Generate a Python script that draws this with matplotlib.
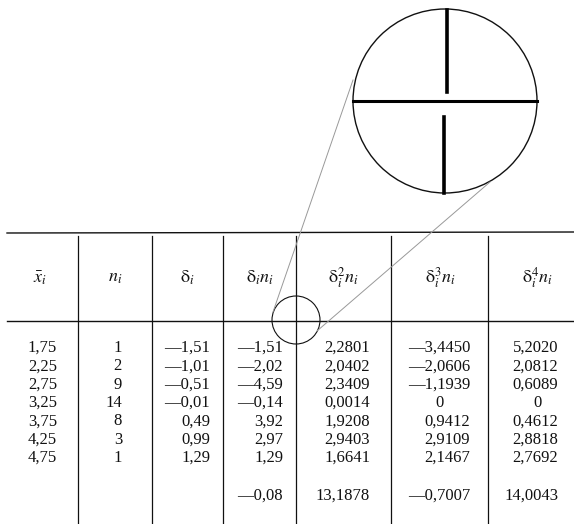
import matplotlib.pyplot as plt
from matplotlib.patches import Circle

plt.rcParams['font.family'] = ['Liberation Serif', 'DejaVu Serif']
plt.rcParams['mathtext.fontset'] = 'stix'

# table data
x_bar = [1.75, 2.25, 2.75, 3.25, 3.75, 4.25, 4.75]
n = [1, 2, 9, 14, 8, 3, 1]
delta = [-1.51, -1.01, -0.51, -0.01, 0.49, 0.99, 1.29]
delta_n = [-1.51, -2.02, -4.59, -0.14, 3.92, 2.97, 1.29]
delta2_n = [2.2801, 2.0402, 2.3409, 0.0014, 1.9208, 2.9403, 1.6641]
delta3_n = [-3.4450, -2.0606, -1.1939, 0, 0.9412, 2.9109, 2.1467]
delta4_n = [5.2020, 2.0812, 0.6089, 0, 0.4612, 2.8818, 2.7692]
sums = [None, None, None, -0.08, 13.1878, -0.7007, 14.0043]

headers = [r'$\bar{x}_i$', r'$n_i$', r'$\mathrm{δ}_i$', r'$\mathrm{δ}_i n_i$',
           r'$\mathrm{δ}_i^2 n_i$', r'$\mathrm{δ}_i^3 n_i$', r'$\mathrm{δ}_i^4 n_i$']
columns = [x_bar, n, delta, delta_n, delta2_n, delta3_n, delta4_n]
decimals = [2, 0, 2, 2, 4, 4, 4]

# layout (pixel units)
col_lines = [78, 152, 223, 296, 391, 488]
col_right = [57, 122, 210, 283, 370, 470, 558]
col_mid = [40, 115, 187, 260, 343, 440, 537]
row0, row_step, sum_y = 348, 18.3, 496
ink = '#111111'


def fmt(v, d):
    if v == 0 and d > 0:
        return '0'
    s = f'{abs(v):.{d}f}'.replace('.', ',')
    return ('—' if v < 0 else '') + s


fig = plt.figure(figsize=(5.74, 5.24), dpi=100)
ax = fig.add_axes([0, 0, 1, 1])
ax.set_xlim(0, 574)
ax.set_ylim(524, 0)
ax.axis('off')

# rules
ax.plot([7, 574], [233, 232], color=ink, lw=1.0)
ax.plot([7, 574], [321, 321], color=ink, lw=1.0)
for x in col_lines:
    ax.plot([x, x], [236, 524], color=ink, lw=0.9)

# headers
for xm, h in zip(col_mid, headers):
    ax.text(xm, 278, h, ha='center', va='center', fontsize=13, color=ink)

# body
for c, (vals, d) in enumerate(zip(columns, decimals)):
    for r, v in enumerate(vals):
        y = row0 + r * row_step
        s = fmt(v, d)
        if s == '0':
            ax.text(col_mid[c], y, s, ha='center', va='center', fontsize=12, color=ink)
        else:
            ax.text(col_right[c], y, s, ha='right', va='center', fontsize=12, color=ink)
    if sums[c] is not None:
        ax.text(col_right[c], sum_y, fmt(sums[c], d), ha='right', va='center',
                fontsize=12, color=ink)

# magnifier
ax.add_patch(Circle((296, 320), 24, fill=False, ec=ink, lw=0.8))
ax.add_patch(Circle((445, 101), 92, fill=False, ec=ink, lw=1.0))
ax.plot([353, 273], [80, 312], color='#999999', lw=0.7)
ax.plot([490, 317], [182, 331], color='#999999', lw=0.7)
ax.plot([353, 537], [101, 101], color='black', lw=2.2)
ax.plot([447, 447], [10, 92], color='black', lw=2.6)
ax.plot([444, 444], [117, 193], color='black', lw=2.6)

fig.savefig('out.png', dpi=100)
